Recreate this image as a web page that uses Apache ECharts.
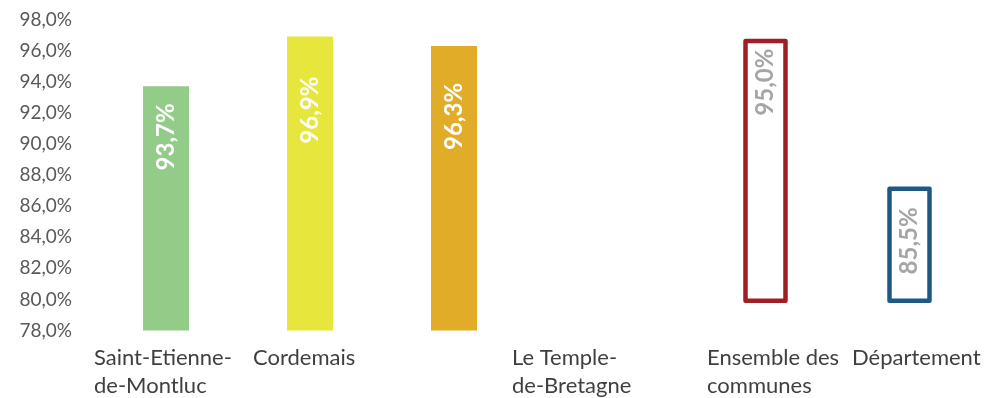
<!DOCTYPE html>
<html>
<head>
<meta charset="utf-8">
<script src="https://cdn.jsdelivr.net/npm/echarts@6/dist/echarts.min.js"></script>
<style>
  html, body { margin: 0; padding: 0; background: #ffffff; }
  #chart { width: 986px; height: 398px; }
</style>
</head>
<body>
<div id="chart"></div>
<script>
// Category names (line breaks as displayed under the axis)
const categories = ['Saint-Etienne-\nde-Montluc', 'Cordemais', 'Le Temple-\nde-Bretagne', '', 'Ensemble des\ncommunes', 'Département'];
// Share per territory, in percent
const values = [93.7, 96.9, 96.3, null, 95.0, 85.5];
// Value axis range and step
const yMin = 78;
const yMax = 98;
const yStep = 2;

// Styling per category
const fillColors   = ['#93CC88', '#E7E63C', '#E1AD29', null, '#FFFFFF', '#FFFFFF'];
const borderColors = [null, null, null, null, '#A01E26', '#1E5985'];
const isOutlined   = [false, false, false, false, true, true];
const labelGap     = [17, 40, 37, 0, 10, 21];
const catLabelShift = [-72, -57, 58, 0, -35, -34];

const FONT = 'Lato, "Open Sans", sans-serif';
const fmtPct = v => v.toFixed(1).replace('.', ',') + '%';

function barData(outlined) {
  return values.map((v, i) => {
    if (v == null || isOutlined[i] !== outlined) return '-';
    return {
      value: v,
      itemStyle: outlined
        ? { color: fillColors[i], borderColor: borderColors[i], borderWidth: 4.5, borderJoin: 'round' }
        : { color: fillColors[i] },
      label: { distance: labelGap[i] }
    };
  });
}

// Rich styles that give each multi-line category label its own left edge:
// a fixed-width box centred on the tick, with left padding moving the text.
const K = 100;
const rich = {};
categories.forEach((c, i) => {
  rich['c' + i] = {
    width: 2 * K,
    align: 'left',
    padding: [0, 0, 0, 2 * (K + catLabelShift[i])],
    fontFamily: FONT,
    fontSize: 22,
    lineHeight: 28,
    color: '#3F3F3F'
  };
});

const baseValueAxis = {
  type: 'value',
  min: yMin,
  max: yMax,
  interval: yStep,
  startValue: yMin,
  splitLine: { show: false },
  axisLine: { show: false },
  axisTick: { show: false }
};

const option = {
  animation: false,
  backgroundColor: '#ffffff',
  grid: [
    { left: 94, right: 28, top: 19.5, bottom: 67.5, containLabel: false, outerBoundsMode: 'none' },
    { left: 117.5, right: 4.5, top: -8, bottom: 95, containLabel: false, outerBoundsMode: 'none' }
  ],
  xAxis: [
    {
      type: 'category',
      gridIndex: 0,
      data: categories,
      axisLine: { show: false },
      axisTick: { show: false },
      axisLabel: {
        interval: 0,
        margin: 13,
        align: 'center',
        verticalAlign: 'top',
        formatter: (v, i) => '{c' + i + '|' + v + '}',
        rich: rich
      }
    },
    {
      type: 'category',
      gridIndex: 1,
      data: categories,
      axisLine: { show: false },
      axisTick: { show: false },
      axisLabel: { show: false }
    }
  ],
  yAxis: [
    Object.assign({}, baseValueAxis, {
      gridIndex: 0,
      axisLabel: {
        margin: 22,
        fontFamily: FONT,
        fontSize: 19,
        color: '#595959',
        formatter: v => fmtPct(v)
      }
    }),
    Object.assign({}, baseValueAxis, {
      gridIndex: 1,
      axisLabel: { show: false }
    })
  ],
  series: [
    {
      type: 'bar',
      xAxisIndex: 0,
      yAxisIndex: 0,
      barWidth: 46,
      data: barData(false),
      label: {
        show: true,
        position: 'insideTop',
        rotate: 90,
        align: 'right',
        verticalAlign: 'middle',
        fontFamily: FONT,
        fontSize: 24,
        fontWeight: 'bold',
        color: '#FFFFFF',
        formatter: p => fmtPct(p.value)
      }
    },
    {
      type: 'bar',
      xAxisIndex: 1,
      yAxisIndex: 1,
      barWidth: 44.5,
      data: barData(true),
      label: {
        show: true,
        position: 'insideTop',
        rotate: 90,
        align: 'right',
        verticalAlign: 'middle',
        fontFamily: FONT,
        fontSize: 24,
        fontWeight: 'bold',
        color: '#A5A5A5',
        formatter: p => fmtPct(p.value)
      }
    }
  ]
};

const chart = echarts.init(document.getElementById('chart'), null, { renderer: 'canvas' });
chart.setOption(option);
</script>
</body>
</html>
